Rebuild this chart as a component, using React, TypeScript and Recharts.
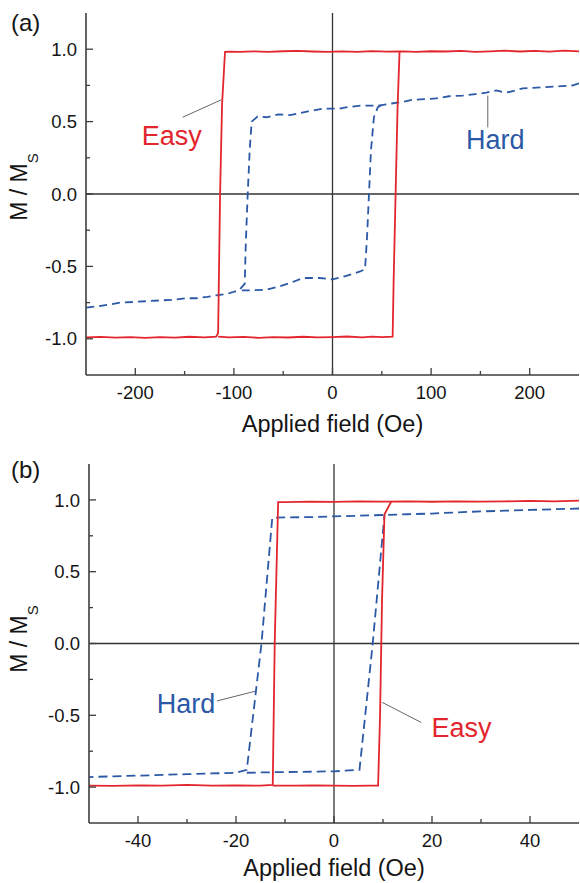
import { LineChart, Line, XAxis, YAxis, ReferenceLine, ReferenceDot } from 'recharts';

type Pt = [number, number];

const FONT = '"Liberation Sans", Arial, Helvetica, sans-serif';
const RED = '#e3262d';
const BLUE = '#2c59a6';
const AXIS = '#3d3d3d';

// ---- panel (a): field (Oe) vs M/Ms ----
const easyADown: Pt[] = [
  [250, 0.985], [235, 0.99], [220, 0.983], [205, 0.988], [190, 0.984], [175, 0.99], [160, 0.985],
  [145, 0.982], [130, 0.988], [115, 0.984], [100, 0.986], [85, 0.981], [70, 0.985], [55, 0.983],
  [40, 0.987], [25, 0.982], [10, 0.985], [-5, 0.981], [-20, 0.984], [-35, 0.988], [-50, 0.986],
  [-65, 0.982], [-80, 0.985], [-95, 0.981], [-105, 0.983], [-109, 0.982], [-112, 0.62], [-114, 0],
  [-116, -0.96], [-118, -0.985], [-130, -0.99], [-145, -0.986], [-160, -0.992], [-175, -0.988],
  [-190, -0.994], [-205, -0.989], [-220, -0.992], [-235, -0.987], [-250, -0.99],
];
const easyAUp: Pt[] = [
  [-116, -0.985], [-105, -0.99], [-90, -0.987], [-75, -0.993], [-60, -0.988], [-45, -0.991],
  [-30, -0.986], [-15, -0.99], [0, -0.988], [15, -0.984], [30, -0.99], [40, -0.985], [50, -0.988],
  [61, -0.985], [62, -0.6], [64, 0], [66, 0.6], [68, 0.982],
];
const hardADown: Pt[] = [
  [250, 0.765], [244, 0.75], [232, 0.745], [220, 0.74], [207, 0.735], [193, 0.73], [184, 0.712],
  [176, 0.7], [166, 0.715], [156, 0.7], [145, 0.69], [132, 0.68], [118, 0.675], [105, 0.66],
  [93, 0.655], [81, 0.65], [70, 0.635], [60, 0.625], [46, 0.61], [28, 0.61], [15, 0.6], [7, 0.59],
  [-10, 0.59], [-25, 0.57], [-43, 0.545], [-55, 0.55], [-67, 0.53], [-76, 0.535], [-82, 0.5],
  [-84, 0.3], [-86, 0], [-88, -0.35], [-89, -0.62], [-95, -0.665], [-107, -0.69], [-118, -0.7],
  [-127, -0.71], [-138, -0.72], [-148, -0.72], [-160, -0.73], [-175, -0.735], [-188, -0.74],
  [-200, -0.745], [-215, -0.75], [-228, -0.765], [-238, -0.775], [-250, -0.785],
];
const hardAUp: Pt[] = [
  [-92, -0.665], [-80, -0.665], [-67, -0.66], [-55, -0.64], [-43, -0.615], [-30, -0.58], [-13, -0.58],
  [0, -0.59], [14, -0.565], [28, -0.535], [33, -0.52], [35, -0.3], [37, 0], [39, 0.3], [42, 0.53],
  [46, 0.6], [50, 0.615],
];

// ---- panel (b) ----
const easyBDown: Pt[] = [
  [50, 0.995], [45, 0.99], [40, 0.993], [35, 0.99], [30, 0.988], [25, 0.99], [20, 0.987], [15, 0.99],
  [10, 0.988], [5, 0.99], [0, 0.986], [-5, 0.988], [-10, 0.985], [-11.4, 0.985], [-12.1, 0],
  [-12.5, -0.985], [-15, -0.99], [-20, -0.988], [-25, -0.99], [-30, -0.985], [-35, -0.99],
  [-40, -0.988], [-45, -0.992], [-50, -0.99],
];
const easyBUp: Pt[] = [
  [-12.5, -0.99], [-8, -0.99], [-4, -0.988], [0, -0.99], [4, -0.992], [7, -0.99], [9, -0.99],
  [9.4, -0.5], [9.8, 0.3], [10.3, 0.9], [11.7, 0.99],
];
const hardBDown: Pt[] = [
  [50, 0.94], [45, 0.935], [40, 0.93], [35, 0.925], [30, 0.92], [25, 0.913], [20, 0.905], [15, 0.9],
  [10, 0.895], [5, 0.89], [0, 0.885], [-5, 0.88], [-10, 0.878], [-12.6, 0.875], [-14.8, 0],
  [-17.8, -0.88], [-20, -0.9], [-25, -0.905], [-30, -0.91], [-35, -0.915], [-40, -0.92],
  [-45, -0.925], [-50, -0.93],
];
const hardBUp: Pt[] = [
  [-17.8, -0.9], [-15, -0.898], [-10, -0.895], [-5, -0.893], [0, -0.89], [5.2, -0.88], [7.9, 0],
  [10.3, 0.895],
];

// ticks
const xMajorA = [-200, -100, 0, 100, 200];
const xMinorA = [-150, -50, 50, 150];
const xMajorB = [-40, -20, 0, 20, 40];
const xMinorB = [-30, -10, 10, 30];
const yMajor = [-1, -0.5, 0, 0.5, 1];
const yMinor = [-0.75, -0.25, 0.25, 0.75];

const toRows = (pts: Pt[]) => pts.map(([h, m]) => ({ h, m }));

const leftTick = (p: any) => {
  const v = p.payload.value;
  const major = yMajor.includes(v);
  return (
    <g>
      <line x1={p.x} y1={p.y} x2={p.x + (major ? 7 : 4)} y2={p.y} stroke={AXIS} strokeWidth={1.3} />
      {major && (
        <text x={p.x - 9} y={p.y} dy="0.36em" textAnchor="end" fontSize={18.5} fontFamily={FONT} fill="#151515">
          {v.toFixed(1)}
        </text>
      )}
    </g>
  );
};

const bottomTick = (majors: number[]) => (p: any) => {
  const v = p.payload.value;
  const major = majors.includes(v);
  return (
    <g>
      <line x1={p.x} y1={p.y} x2={p.x} y2={p.y - (major ? 7 : 4)} stroke={AXIS} strokeWidth={1.3} />
      {major && (
        <text x={p.x} y={p.y + 24} textAnchor="middle" fontSize={18.5} fontFamily={FONT} fill="#151515">
          {String(v)}
        </text>
      )}
    </g>
  );
};

const topTick = (majors: number[]) => (p: any) => {
  const major = majors.includes(p.payload.value);
  return <line x1={p.x} y1={p.y} x2={p.x} y2={p.y + (major ? 7 : 4)} stroke={AXIS} strokeWidth={1.3} />;
};

interface PanelProps {
  top: number;
  height: number;
  plotTop: number;
  yAxisWidth: number;
  xAxisHeight: number;
  xLabelOffset: number;
  xDomain: [number, number];
  xMajor: number[];
  xMinor: number[];
  tag: string;
  tagTop: number;
  yLabelCy: number;
  dash: string;
  easy: Pt[][];
  hard: Pt[][];
  easyLabel: Pt;
  hardLabel: Pt;
  easyLeader: Pt[];
  hardLeader: Pt[];
}

function Panel(props: PanelProps) {
  const { top, height, plotTop, yAxisWidth, xAxisHeight, xDomain, xMajor, xMinor } = props;
  const ticks = [...xMajor, ...xMinor];
  const yTicks = [...yMajor, ...yMinor];
  const plotBottom = height - xAxisHeight;
  const plotCx = (yAxisWidth + 579) / 2;

  return (
    <div style={{ position: 'absolute', left: 0, top, width: 580, height }}>
      <LineChart width={580} height={height} margin={{ top: plotTop, right: 1, bottom: 0, left: 0 }}>
        <XAxis
          dataKey="h"
          type="number"
          domain={xDomain}
          allowDataOverflow
          ticks={ticks}
          interval={0}
          height={xAxisHeight}
          tickSize={0}
          tickMargin={0}
          tickLine={false}
          axisLine={{ stroke: AXIS, strokeWidth: 1.6 }}
          tick={bottomTick(xMajor)}
          label={{
            content: () => (
              <text
                x={plotCx}
                y={plotBottom + props.xLabelOffset}
                textAnchor="middle"
                fontSize={23.5}
                fontFamily={FONT}
                fill="#151515"
              >
                Applied field (Oe)
              </text>
            ),
          }}
        />
        <XAxis
          xAxisId="t"
          orientation="top"
          type="number"
          domain={xDomain}
          allowDataOverflow
          ticks={ticks}
          interval={0}
          height={0}
          tickSize={0}
          tickMargin={0}
          tickLine={false}
          axisLine={{ stroke: AXIS, strokeWidth: 1.6 }}
          tick={topTick(xMajor)}
        />
        <YAxis
          type="number"
          domain={[-1.25, 1.25]}
          allowDataOverflow
          ticks={yTicks}
          interval={0}
          width={yAxisWidth}
          tickSize={0}
          tickMargin={0}
          tickLine={false}
          axisLine={{ stroke: AXIS, strokeWidth: 1.6 }}
          tick={leftTick}
          label={{
            content: () => (
              <text
                x={27}
                y={props.yLabelCy}
                transform={`rotate(-90 27 ${props.yLabelCy})`}
                textAnchor="middle"
                fontSize={23}
                fontFamily={FONT}
                fill="#151515"
              >
                M / M
                <tspan fontSize={15} dy={11}>
                  S
                </tspan>
              </text>
            ),
          }}
        />
        <YAxis
          yAxisId="r"
          orientation="right"
          type="number"
          domain={[-1.25, 1.25]}
          allowDataOverflow
          width={0}
          tick={false}
          tickLine={false}
          axisLine={{ stroke: AXIS, strokeWidth: 1.6 }}
        />
        <ReferenceLine x={0} stroke="#333" strokeWidth={1.3} />
        <ReferenceLine y={0} stroke="#333" strokeWidth={1.3} />
        <ReferenceLine
          segment={props.easyLeader.map(([x, y]) => ({ x, y }))}
          stroke="#666"
          strokeWidth={1}
        />
        <ReferenceLine
          segment={props.hardLeader.map(([x, y]) => ({ x, y }))}
          stroke="#666"
          strokeWidth={1}
        />
        {props.hard.map((pts, i) => (
          <Line
            key={`hard-${i}`}
            data={toRows(pts)}
            dataKey="m"
            type="linear"
            stroke={BLUE}
            strokeWidth={1.8}
            strokeDasharray={props.dash}
            dot={false}
            activeDot={false}
            isAnimationActive={false}
          />
        ))}
        {props.easy.map((pts, i) => (
          <Line
            key={`easy-${i}`}
            data={toRows(pts)}
            dataKey="m"
            type="linear"
            stroke={RED}
            strokeWidth={1.8}
            dot={false}
            activeDot={false}
            isAnimationActive={false}
          />
        ))}
        <ReferenceDot
          x={props.easyLabel[0]}
          y={props.easyLabel[1]}
          r={0}
          fill="none"
          stroke="none"
          label={{ value: 'Easy', position: 'center', fill: RED, fontSize: 27, fontFamily: FONT }}
        />
        <ReferenceDot
          x={props.hardLabel[0]}
          y={props.hardLabel[1]}
          r={0}
          fill="none"
          stroke="none"
          label={{ value: 'Hard', position: 'center', fill: BLUE, fontSize: 27, fontFamily: FONT }}
        />
      </LineChart>
      <div
        style={{
          position: 'absolute',
          left: 11,
          top: props.tagTop,
          fontSize: 24,
          lineHeight: 1,
          fontFamily: FONT,
          color: '#151515',
        }}
      >
        {props.tag}
      </div>
    </div>
  );
}

export default function App() {
  return (
    <div style={{ position: 'absolute', left: 0, top: 0, width: 580, height: 883, background: '#fff' }}>
      <Panel
        top={0}
        height={440}
        plotTop={13}
        yAxisWidth={86}
        xAxisHeight={65}
        xLabelOffset={57}
        xDomain={[-250, 250]}
        xMajor={xMajorA}
        xMinor={xMinorA}
        tag="(a)"
        tagTop={10.5}
        yLabelCy={187}
        dash="8 5"
        easy={[easyADown, easyAUp]}
        hard={[hardADown, hardAUp]}
        easyLabel={[-163, 0.403]}
        hardLabel={[165, 0.38]}
        easyLeader={[[-152, 0.53], [-113, 0.65]]}
        hardLeader={[[157.5, 0.46], [157.5, 0.68]]}
      />
      <Panel
        top={440}
        height={443}
        plotTop={24}
        yAxisWidth={89}
        xAxisHeight={60}
        xLabelOffset={53}
        xDomain={[-50, 50]}
        xMajor={xMajorB}
        xMinor={xMinorB}
        tag="(b)"
        tagTop={17.5}
        yLabelCy={199}
        dash="9 5"
        easy={[easyBDown, easyBUp]}
        hard={[hardBDown, hardBUp]}
        easyLabel={[26, -0.585]}
        hardLabel={[-30.2, -0.42]}
        easyLeader={[[9.85, -0.41], [17.8, -0.55]]}
        hardLeader={[[-23.9, -0.4], [-15.8, -0.33]]}
      />
    </div>
  );
}
